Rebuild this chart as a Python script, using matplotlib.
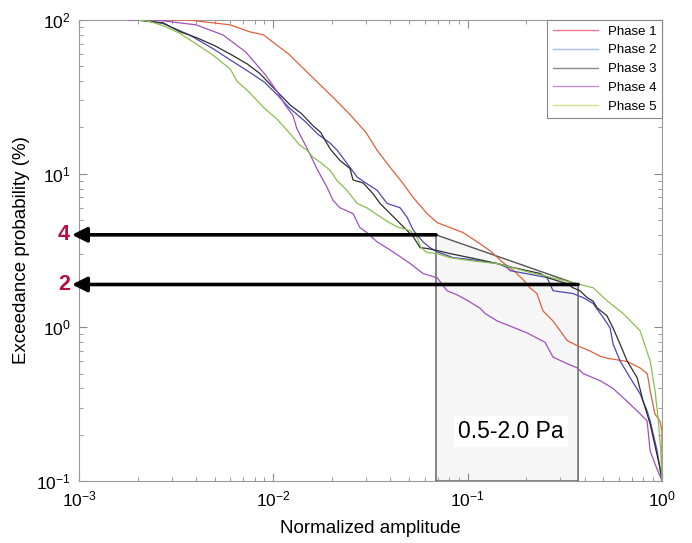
import matplotlib
matplotlib.use("Agg")
import matplotlib.pyplot as plt
from matplotlib.patches import Polygon
from matplotlib.lines import Line2D
import matplotlib.transforms as mtransforms

plt.rcParams['font.family'] = ['Liberation Sans', 'DejaVu Sans']
plt.rcParams['mathtext.default'] = 'regular'

# ---------------- data ----------------
phase_names = ["Phase 1", "Phase 2", "Phase 3", "Phase 4", "Phase 5"]

x1 = [0.002, 0.0037, 0.0045, 0.006, 0.0075, 0.0089, 0.012, 0.016, 0.0205, 0.025, 0.030, 0.0342,
      0.0399, 0.0466, 0.0524, 0.0618, 0.0697, 0.0811, 0.0946, 0.112, 0.130, 0.152, 0.175, 0.193,
      0.209, 0.227, 0.244, 0.275, 0.299, 0.325, 0.366, 0.427, 0.48, 0.52, 0.66, 0.77, 0.84, 0.87,
      0.92, 0.977, 1.0, 1.0]
y1 = [100, 100, 97, 93, 84, 80, 60, 42, 31, 24, 18.5, 14.2, 11.0, 8.6, 7.0, 5.5, 4.8, 4.46, 4.14,
      3.6, 3.16, 2.64, 2.3, 2.04, 1.81, 1.66, 1.28, 1.10, 0.95, 0.82, 0.76, 0.70, 0.65, 0.63, 0.60,
      0.545, 0.50, 0.385, 0.273, 0.245, 0.21, 0.1]

x2 = [0.002, 0.0027, 0.0037, 0.0049, 0.006, 0.0073, 0.0090, 0.0105, 0.012, 0.0145, 0.017, 0.0196,
      0.0213, 0.0239, 0.027, 0.0303, 0.0342, 0.0385, 0.0449, 0.0488, 0.0524, 0.0589, 0.064, 0.0697,
      0.0841, 0.0993, 0.142, 0.160, 0.165, 0.256, 0.275, 0.348, 0.393, 0.442, 0.498, 0.541, 0.56,
      0.608, 0.685, 0.771, 0.838, 0.869, 0.944, 1.0]
y2 = [100, 95, 80, 65, 55, 47, 39.4, 32.5, 27, 22, 18, 15.8, 14.2, 11.7, 9.5, 8.6, 7.8, 6.4, 6.0,
      5.2, 4.3, 3.6, 3.3, 3.1, 2.84, 2.78, 2.6, 2.45, 2.34, 2.11, 1.73, 1.66, 1.56, 1.43, 1.16,
      0.99, 0.78, 0.605, 0.47, 0.37, 0.286, 0.246, 0.157, 0.1]

x3 = [0.002, 0.0027, 0.0033, 0.004, 0.005, 0.006, 0.0073, 0.0085, 0.0105, 0.0122, 0.014, 0.016,
      0.0175, 0.0196, 0.022, 0.0248, 0.0257, 0.029, 0.0326, 0.0354, 0.0385, 0.0434, 0.0488, 0.0524,
      0.0569, 0.0618, 0.0697, 0.0811, 0.1028, 0.142, 0.171, 0.236, 0.256, 0.325, 0.348, 0.378,
      0.412, 0.442, 0.463, 0.521, 0.56, 0.608, 0.661, 0.745, 0.80, 0.869, 0.977, 1.0]
y3 = [100, 96, 84, 77, 68, 60, 52, 45, 34, 28, 24.5, 20.5, 18.6, 14.5, 12.2, 10.8, 9.1, 8.7, 7.4,
      6.4, 5.76, 4.95, 4.26, 3.9, 3.30, 3.26, 3.16, 3.02, 2.84, 2.60, 2.45, 2.24, 2.11, 1.92, 1.81,
      1.73, 1.56, 1.48, 1.34, 1.19, 0.99, 0.78, 0.605, 0.47, 0.33, 0.235, 0.121, 0.1]

x4 = [0.0018, 0.0025, 0.004, 0.0055, 0.0072, 0.0091, 0.0105, 0.0115, 0.0126, 0.0132, 0.0150,
      0.0168, 0.0189, 0.0203, 0.022, 0.0257, 0.0279, 0.0303, 0.0342, 0.0413, 0.0506, 0.0589,
      0.0697, 0.0783, 0.0881, 0.0993, 0.116, 0.123, 0.142, 0.165, 0.202, 0.25, 0.275, 0.325,
      0.366, 0.393, 0.48, 0.56, 0.661, 0.745, 0.838, 0.869, 0.921, 1.0]
y4 = [100, 100, 93, 80, 62, 44, 34, 28, 24, 19.7, 14.4, 10.7, 8.15, 6.7, 6.0, 5.5, 4.46, 4.14,
      3.6, 3.1, 2.6, 2.24, 2.1, 1.73, 1.63, 1.5, 1.33, 1.23, 1.10, 1.02, 0.92, 0.80, 0.64, 0.58,
      0.545, 0.50, 0.45, 0.40, 0.33, 0.286, 0.246, 0.157, 0.129, 0.1]

x5 = [0.002, 0.0023, 0.0027, 0.0033, 0.004, 0.0049, 0.006, 0.0065, 0.0075, 0.0089, 0.0105,
      0.0122, 0.0137, 0.0149, 0.016, 0.0174, 0.0196, 0.0213, 0.0239, 0.027, 0.0303, 0.0342,
      0.0385, 0.0434, 0.0506, 0.055, 0.0575, 0.0618, 0.0697, 0.0811, 0.1028, 0.142, 0.209, 0.236,
      0.348, 0.442, 0.521, 0.631, 0.771, 0.869, 0.921, 0.955, 0.985, 1.0]
y5 = [100, 98, 92, 82, 70, 59, 48, 40, 34, 27, 22.5, 18.2, 15.3, 14.2, 12.8, 11.9, 10.5, 9.0, 7.8,
      6.4, 6.0, 5.4, 4.9, 4.5, 4.26, 3.84, 3.30, 3.07, 3.02, 2.84, 2.72, 2.60, 2.28, 2.2, 1.95,
      1.81, 1.49, 1.23, 0.95, 0.605, 0.385, 0.257, 0.16, 0.1]

# highlighted amplitude band (0.5-2.0 Pa) and exceedance levels marked by arrows
band_x = [0.0687, 0.370]
band_levels = [4.0, 1.9]
level_labels = ["4", "2"]
band_text = "0.5-2.0 Pa"

line_colors = ["#e0603a", "#4a48b8", "#2e2e2e", "#a050c0", "#88c050"]
legend_colors = ["#f07890", "#a8c0e8", "#8a8a8a", "#c090d8", "#d0e490"]

# ---------------- figure ----------------
fig = plt.figure(figsize=(6.92, 5.43), dpi=100)
ax = fig.add_axes([79 / 692, 1 - 481 / 543, (662 - 79) / 692, (481 - 20) / 543])
ax.set_xscale("log")
ax.set_yscale("log")
ax.set_xlim(1e-3, 1)
ax.set_ylim(0.1, 100)

# band polygon
poly = Polygon([(band_x[0], 0.1), (band_x[0], band_levels[0]), (band_x[1], band_levels[1]),
                (band_x[1], 0.1)], closed=True, facecolor="#f6f6f6", edgecolor="#555555",
               lw=1.0, zorder=1)
ax.add_patch(poly)

xs = [x1, x2, x3, x4, x5]
ys = [y1, y2, y3, y4, y5]
for xv, yv, c in zip(xs, ys, line_colors):
    ax.plot(xv, yv, color=c, lw=0.9, zorder=3)

# arrows
trans = mtransforms.blended_transform_factory(ax.transAxes, ax.transData)
for xe, lvl, lab in zip(band_x, band_levels, level_labels):
    ax.annotate("", xy=(0.00092, lvl), xytext=(xe, lvl),
                arrowprops=dict(arrowstyle="-|>", color="black", lw=2.6,
                                mutation_scale=22, shrinkA=0, shrinkB=0),
                annotation_clip=False, zorder=5)
    ax.text(-0.026, lvl, lab, transform=trans, ha="center", va="center",
            color="#b3123e", fontsize=15.5, fontweight="bold")

ax.text(0.167, 0.211, band_text, ha="center", va="center", fontsize=16.5, zorder=4,
        bbox=dict(facecolor="white", edgecolor="none", pad=3))

# axes styling
for sp in ax.spines.values():
    sp.set_color("#9a9a9a")
ax.tick_params(which="both", direction="in", top=True, right=True, color="#8a8a8a")
ax.tick_params(which="major", length=6, labelsize=12.5, pad=6)
ax.tick_params(which="minor", length=3)

ax.set_xlabel("Normalized amplitude", fontsize=13.5, labelpad=8)
ax.set_ylabel("Exceedance probability (%)", fontsize=13.5, labelpad=4)

handles = [Line2D([0], [0], color=c, lw=1.0) for c in legend_colors]
leg = ax.legend(handles, phase_names, loc="upper right", fontsize=9.5, fancybox=False,
                edgecolor="#888888", framealpha=1, borderaxespad=0.0, handlelength=3.4,
                labelspacing=0.5)
leg.get_frame().set_linewidth(0.8)

fig.savefig("out.png", dpi=100)
